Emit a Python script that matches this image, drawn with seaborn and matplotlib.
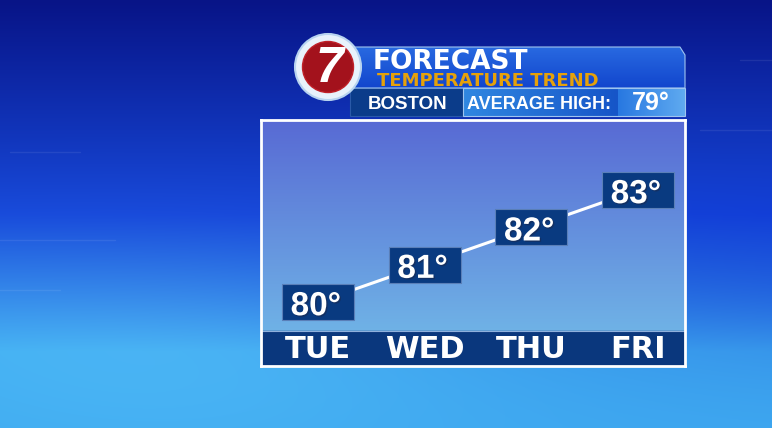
import numpy as np
import matplotlib
matplotlib.use("Agg")
import matplotlib.pyplot as plt
import matplotlib.patheffects as pe
from matplotlib.patches import Rectangle, Circle, Polygon
import seaborn as sns

# data
days = ["TUE", "WED", "THU", "FRI"]
highs = [80, 81, 82, 83]
city = "BOSTON"
avg_high = 79

W, H = 772, 428
sns.set_theme(style="white")
plt.rcParams["font.family"] = ["Liberation Sans", "DejaVu Sans"]
WIDE = ["DejaVu Sans"]

fig = plt.figure(figsize=(W / 100, H / 100), dpi=100)


def px_ax(x0, y0, x1, y1, **kw):
    # axes placed by pixel box (top-left origin)
    return fig.add_axes([x0 / W, 1 - y1 / H, (x1 - x0) / W, (y1 - y0) / H], **kw)


# background gradient
bg = fig.add_axes([0, 0, 1, 1])
yy, xx = np.mgrid[0:H, 0:W]
t = yy / H
top = np.array([8, 20, 135]) / 255
mid = np.array([22, 72, 218]) / 255
bot = np.array([62, 168, 240]) / 255
s = np.clip(t / 0.5, 0, 1)[..., None]
u = np.clip((t - 0.5) / 0.32, 0, 1)[..., None]
img = top * (1 - s) + mid * s
img = img * (1 - u) + bot * u
glow = np.exp(-(((xx - 180) / 320) ** 2 + ((yy - 340) / 120) ** 2))[..., None]
img = img + glow * np.array([0.05, 0.06, 0.02])
band = np.exp(-((t - 0.7) / 0.2) ** 2)[..., None]
img = img - (xx / W)[..., None] * band * np.array([0.04, 0.1, 0.03])
bg.imshow(np.clip(img, 0, 1), aspect="auto", extent=(0, W, H, 0))
for y0, x0, x1 in [(240, 0, 115), (290, 0, 60), (152, 10, 80), (60, 740, 772), (130, 700, 772)]:
    bg.plot([x0, x1], [y0, y0], color="white", alpha=0.08, lw=1)
bg.set_xlim(0, W)
bg.set_ylim(H, 0)
bg.axis("off")

# main panel
ax = px_ax(261, 120, 685, 366)
xlo, xhi = -0.534, 3.44
ylo, yhi = 78.29, 84.875
grad = np.linspace(0, 1, 200)[:, None]
c_top = np.array([88, 106, 212]) / 255
c_bot = np.array([115, 190, 233]) / 255
panel = c_top * (1 - grad[..., None]) + c_bot * grad[..., None]
ax.imshow(panel, aspect="auto", extent=(xlo, xhi, ylo, yhi), origin="upper", zorder=0)
bar_top = 79.22
ax.axhspan(ylo, bar_top, color="#0a377d", zorder=1)
ax.axhline(bar_top, color="#8fb0dc", lw=0.8, zorder=1)

idx = np.arange(len(days))
sns.lineplot(x=idx, y=highs, color="white", lw=2.2, ax=ax, zorder=2)

shadow = [pe.withSimplePatchShadow(offset=(1, -1), shadow_rgbFace="#1a2a50", alpha=0.6)]
bw, bh = 0.675, 0.965
for i, (d, v) in enumerate(zip(days, highs)):
    ax.add_patch(Rectangle((i - bw / 2, v - bh / 2), bw, bh, facecolor="#093a80",
                           edgecolor="#5a7fb8", lw=0.8, zorder=3))
    ax.text(i - 0.02, v - 0.35, f"{v}°", color="white", fontsize=24, fontweight="bold",
            ha="center", va="baseline", zorder=4, path_effects=shadow)
    ax.text(i, ylo + 0.22, d, color="white", fontsize=22, fontweight="bold",
            family=WIDE, ha="center", va="baseline", zorder=4)

ax.set_xlim(xlo, xhi)
ax.set_ylim(ylo, yhi)
ax.set_xticks([])
ax.set_yticks([])
ax.set_xlabel("")
ax.set_ylabel("")
for sp in ax.spines.values():
    sp.set_color("white")
    sp.set_linewidth(2)

# header overlay
hd = fig.add_axes([0, 0, 1, 1])
hd.set_xlim(0, W)
hd.set_ylim(H, 0)
hd.axis("off")
hd.patch.set_alpha(0)

hg = np.linspace(0, 1, 50)[:, None]
h_top = np.array([40, 105, 225]) / 255
h_bot = np.array([18, 70, 205]) / 255
himg = h_top * (1 - hg[..., None]) + h_bot * hg[..., None]
im = hd.imshow(himg, aspect="auto", extent=(350, 685, 88, 47), zorder=2)
clip = Polygon([(350, 47), (680, 47), (685, 55), (685, 88), (350, 88)], closed=True,
               transform=hd.transData)
im.set_clip_path(clip)
hd.add_patch(Polygon([(350, 47), (680, 47), (685, 55), (685, 88), (350, 88)], closed=True,
                     fill=False, edgecolor="#9ec4f0", lw=0.8, zorder=3))
hd.text(373, 68.5, "FORECAST", color="white", fontsize=19, fontweight="bold",
        family=WIDE, ha="left", va="baseline", zorder=4)
hd.text(377, 86, "TEMPERATURE TREND", color="#e6a10a", fontsize=13, fontweight="bold",
        family=WIDE, ha="left", va="baseline", zorder=4)

# info row
hd.add_patch(Rectangle((350, 88), 113, 28, facecolor="#0b3c8a", edgecolor="#2a5aa8", lw=0.8, zorder=2))
rg = np.linspace(0, 1, 100)[None, :]
a_l = np.array([48, 135, 225]) / 255
a_r = np.array([22, 85, 200]) / 255
hd.imshow(a_l * (1 - rg[..., None]) + a_r * rg[..., None], aspect="auto",
          extent=(463, 618, 116, 88), zorder=2)
b_l = np.array([40, 120, 225]) / 255
b_r = np.array([95, 170, 240]) / 255
hd.imshow(b_l * (1 - rg[..., None]) + b_r * rg[..., None], aspect="auto",
          extent=(618, 685, 116, 88), zorder=2)
hd.add_patch(Rectangle((463, 88), 222, 28, fill=False, edgecolor="#9ec4f0", lw=0.8, zorder=3))
hd.text(408, 108.5, city, color="white", fontsize=13.5, fontweight="bold",
        ha="center", va="baseline", zorder=4)
hd.text(539, 108.5, "AVERAGE HIGH:", color="white", fontsize=13, fontweight="bold",
        ha="center", va="baseline", zorder=4)
hd.text(651, 109.5, f"{avg_high}°", color="white", fontsize=18, fontweight="bold",
        ha="center", va="baseline", zorder=4)

# logo
hd.add_patch(Circle((328, 67), 33, facecolor="#e8f2fb", edgecolor="#b8d4f0", lw=1.5, zorder=5))
hd.add_patch(Circle((328, 67), 25.5, facecolor="#a3121c", edgecolor="#c02028", lw=1, zorder=6))
hd.text(329, 69, "7", color="white", fontsize=36, fontweight="bold", style="italic",
        ha="center", va="center", zorder=7)

fig.savefig("out.png", dpi=100)
